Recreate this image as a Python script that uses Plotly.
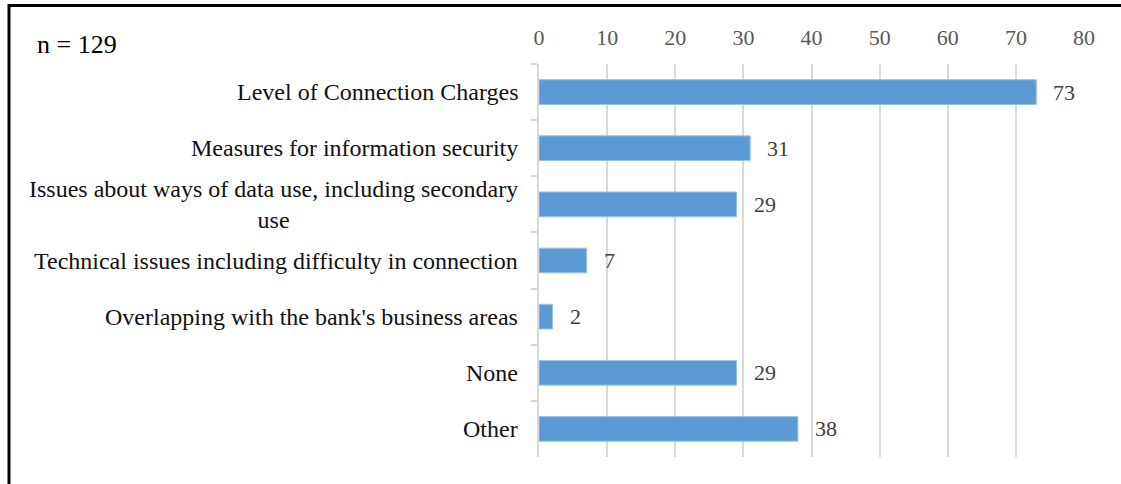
import plotly.graph_objects as go

# Survey responses (n = 129), top to bottom
categories = [
    "Level of Connection Charges",
    "Measures for information security",
    "Issues about ways of data use, including secondary<br>use",
    "Technical issues including difficulty in connection",
    "Overlapping with the bank's business areas",
    "None",
    "Other",
]
counts = [73, 31, 29, 7, 2, 29, 38]
x_ticks = [0, 10, 20, 30, 40, 50, 60, 70, 80]
sample_note = "n = 129"

W, H = 1121, 484
M_L, M_R, M_T, M_B = 539, 37, 64, 27
FONT = "Liberation Serif"
BAR_COLOR = "#5b9bd5"
GRID = "#d9d9d9"


def px_x(px):
    return (px - M_L) / (W - M_L - M_R)


def px_y(py):
    return (H - M_B - py) / (H - M_T - M_B)


fig = go.Figure(
    go.Bar(
        x=counts,
        y=categories,
        orientation="h",
        marker=dict(color=BAR_COLOR, line=dict(color="#9cc2e5", width=1)),
        hoverinfo="x+y",
    )
)

annotations = []
# Category labels drawn as annotations so wrapped lines stay centred
for cat in categories:
    annotations.append(dict(
        x=px_x(520), xref="paper", y=cat, yref="y",
        text=cat, showarrow=False, xanchor="right", yanchor="middle",
        align="center", font=dict(family=FONT, size=24, color="#111111"),
    ))
# Value labels next to each bar
for cat, v in zip(categories, counts):
    annotations.append(dict(
        x=v, xref="x", y=cat, yref="y", text=str(v), showarrow=False,
        xanchor="left", yanchor="middle", xshift=15,
        font=dict(family=FONT, size=22, color="#404040"),
    ))
annotations.append(dict(
    x=px_x(35), xref="paper", y=px_y(45), yref="paper", text=sample_note,
    showarrow=False, xanchor="left", yanchor="middle",
    font=dict(family=FONT, size=26, color="#000000"),
))

# Frame around the chart (top and left edges)
shapes = [
    dict(type="line", xref="paper", yref="paper",
         x0=px_x(9), x1=px_x(1130), y0=px_y(5.5), y1=px_y(5.5),
         line=dict(color="#000000", width=3)),
    dict(type="line", xref="paper", yref="paper",
         x0=px_x(9), x1=px_x(9), y0=px_y(4), y1=px_y(495),
         line=dict(color="#000000", width=3)),
]

fig.update_layout(
    width=W, height=H,
    margin=dict(l=M_L, r=M_R, t=M_T, b=M_B, pad=0),
    paper_bgcolor="white", plot_bgcolor="white",
    bargap=0.56,
    showlegend=False,
    annotations=annotations,
    shapes=shapes,
    font=dict(family=FONT),
)
fig.update_xaxes(
    side="top", range=[0, 80], tickvals=x_ticks, ticktext=[str(t) for t in x_ticks],
    showgrid=True, gridcolor=GRID, gridwidth=2, zeroline=False, showline=False,
    ticks="", ticklabelstandoff=14,
    tickfont=dict(family=FONT, size=22, color="#595959"),
)
fig.update_yaxes(
    categoryorder="array", categoryarray=categories, autorange="reversed",
    showticklabels=False, showgrid=False, zeroline=False,
    showline=True, linecolor=GRID, linewidth=2,
    ticks="outside", tickson="boundaries", ticklen=6, tickcolor=GRID, tickwidth=2,
)

fig.write_html("out.html")
